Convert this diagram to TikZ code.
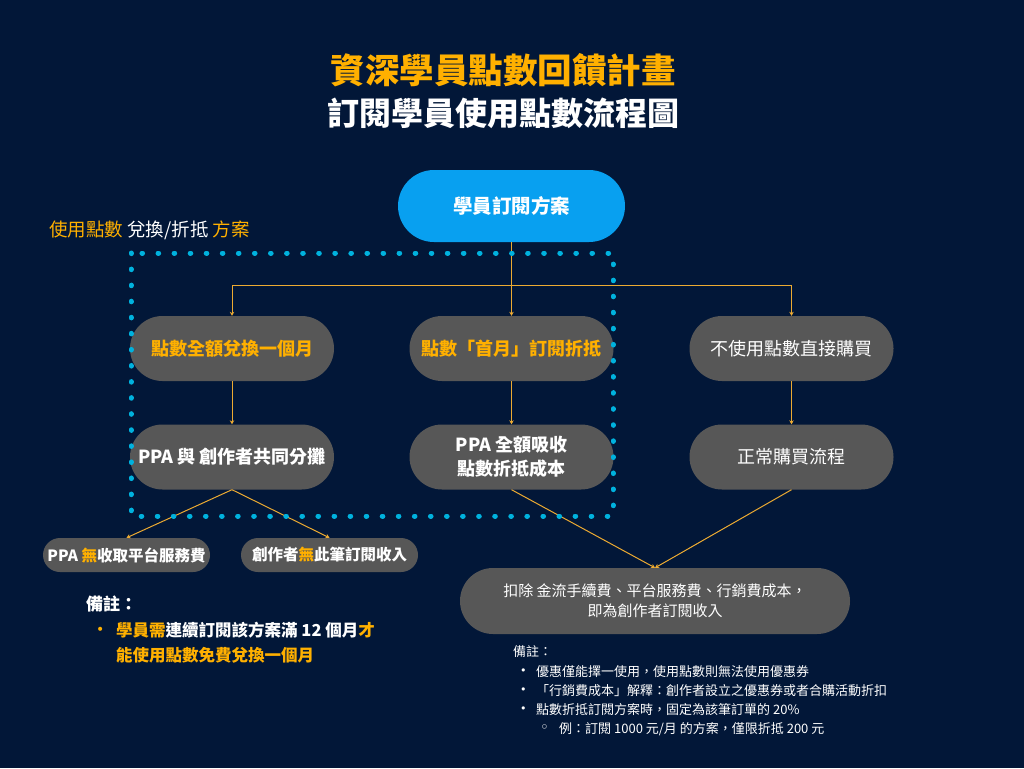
\documentclass[tikz,border=0pt]{standalone}
\usepackage{fontspec}
\setmainfont{Noto Sans CJK TC}
\newfontfamily\symfont{DejaVu Sans}
\usetikzlibrary{arrows.meta}

\definecolor{navy}{RGB}{2,23,56}
\definecolor{gold}{RGB}{255,176,0}
\definecolor{lineor}{RGB}{236,170,50}
\definecolor{pill}{RGB}{87,87,87}
\definecolor{skyblue}{RGB}{8,160,240}
\definecolor{dotcyan}{RGB}{0,178,222}

\tikzset{
  pillbox/.style={fill=pill, text=white, rounded corners=32.5pt, minimum width=204pt, minimum height=65pt, inner sep=0pt, align=center, font=\fontsize{18}{24}\selectfont},
  boldpill/.style={pillbox, font=\bfseries\fontsize{18}{24}\selectfont},
  leafbox/.style={fill=pill, text=white, rounded corners=17pt, minimum height=34pt, inner sep=0pt, font=\bfseries\fontsize{15.5}{18}\selectfont},
  flow/.style={draw=lineor, line width=1pt, -{Stealth[length=4pt,width=4.5pt]}},
  note/.style={anchor=west, text=white, inner sep=0pt},
}

\begin{document}
\begin{tikzpicture}[x=1pt, y=-1pt]
\fill[navy] (0,0) rectangle (1024,768);

% title
\node[text=gold, font=\bfseries\fontsize{34.5}{40}\selectfont] (title) at (503,70) {資深學員點數回饋計畫};
\node[text=white, font=\bfseries\fontsize{32}{38}\selectfont] (subtitle) at (503,113) {訂閱學員使用點數流程圖};

\node[note, font=\fontsize{18.5}{20}\selectfont] (arealabel) at (49,230) {\textcolor{gold}{使用點數} 兌換/折抵 \textcolor{gold}{方案}};

\node[fill=skyblue, text=white, rounded corners=36pt, minimum width=227pt, minimum height=72pt, inner sep=0pt, font=\bfseries\fontsize{19.5}{24}\selectfont] (plan) at (511.5,206) {學員訂閱方案};

\node[boldpill, text=gold] (fullswap) at (232,348.5) {點數全額兌換一個月};
\node[boldpill, text=gold] (firstmonth) at (511.5,348.5) {點數「首月」訂閱折抵};
\node[pillbox] (direct) at (791.5,348.5) {不使用點數直接購買};

\node[boldpill] (shared) at (232,457) {PPA 與 創作者共同分攤};
\node[boldpill] (absorb) at (511.5,457) {PPA 全額吸收\\點數折抵成本};
\node[pillbox] (normal) at (791.5,457) {正常購買流程};

\node[leafbox, minimum width=167pt] (nofee) at (126.5,555) {PPA \textcolor{gold}{無}收取平台服務費};
\node[leafbox, minimum width=177pt] (noincome) at (329.5,555) {創作者\textcolor{gold}{無}此筆訂閱收入};

\node[pillbox, minimum width=390pt, minimum height=66pt, rounded corners=33pt, font=\fontsize{15}{20}\selectfont] (income) at (655,601) {扣除 金流手續費、平台服務費、行銷費成本，\\即為創作者訂閱收入};

% connectors
\coordinate (split) at (511.5,285);
\draw[flow] (plan.south) -- (firstmonth.north);
\draw[flow] (split) -| (fullswap.north);
\draw[flow] (split) -| (direct.north);
\draw[flow] (fullswap) -- (shared);
\draw[flow] (firstmonth) -- (absorb);
\draw[flow] (direct) -- (normal);
\draw[flow] (shared.south) -- (nofee.north);
\draw[flow] (shared.south) -- (noincome.north);
\draw[flow] (absorb.south) -- (income.north);
\draw[flow] (normal.south) -- (income.north);

% points area
\draw[dotcyan, line width=5pt, line cap=round, dash pattern=on 0.6pt off 15.47pt] (131,253) rectangle (613,516);

% left notes
\node[note, font=\bfseries\fontsize{17}{20}\selectfont] (leftnote) at (86,604) {備註：};
\node[note, text=gold, font=\symfont\fontsize{14}{16}\selectfont] (leftdot) at (96,631) {•};
\node[note, font=\bfseries\fontsize{16.5}{20}\selectfont] (leftline1) at (116,630) {\textcolor{gold}{學員需}連續訂閱該方案滿 12 個月\textcolor{gold}{才}};
\node[note, text=gold, font=\bfseries\fontsize{16.5}{20}\selectfont] (leftline2) at (116,655) {能使用點數免費兌換一個月};

% right notes
\node[note, font=\fontsize{13}{16}\selectfont] (rightnote) at (513,652) {備註：};
\foreach \yy in {672,691,710}
  \node[note, font=\symfont\fontsize{11}{14}\selectfont] at (520,\yy) {•};
\node[note, font=\fontsize{13}{16}\selectfont] (rightline1) at (536,672) {優惠僅能擇一使用，使用點數則無法使用優惠券};
\node[note, font=\fontsize{13}{16}\selectfont] (rightline2) at (536,691) {「行銷費成本」解釋：創作者設立之優惠券或者合購活動折扣};
\node[note, font=\fontsize{13}{16}\selectfont] (rightline3) at (536,710) {點數折抵訂閱方案時，固定為該筆訂單的 20\%};
\node[note, font=\symfont\fontsize{15}{14}\selectfont] (subdot) at (540,729) {◦};
\node[note, font=\fontsize{13}{16}\selectfont] (rightline4) at (559,729) {例：訂閱 1000 元/月 的方案，僅限折抵 200 元};

\end{tikzpicture}
\end{document}
